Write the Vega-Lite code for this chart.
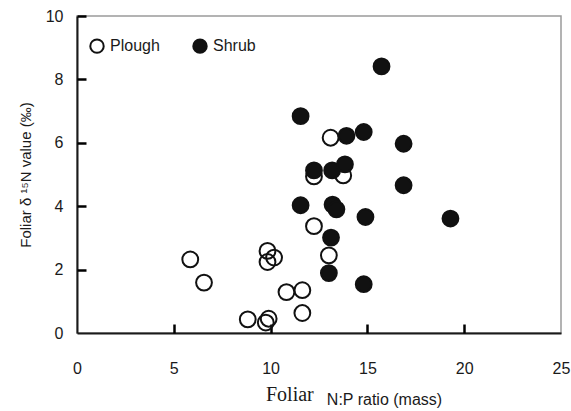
{
  "$schema": "https://vega.github.io/schema/vega-lite/v6.json",
  "width": 484,
  "height": 317,
  "autosize": {"type": "none"},
  "padding": {"left": 77, "top": 16, "right": 10, "bottom": 78},
  "config": {
    "font": "Liberation Sans",
    "view": {"stroke": "#9a9a9a", "strokeWidth": 1.5},
    "axis": {
      "domainColor": "#1a1a1a",
      "domainWidth": 2,
      "grid": false,
      "labelFont": "Liberation Sans",
      "labelFontSize": 16,
      "labelColor": "#1a1a1a",
      "titleFont": "Liberation Sans",
      "titleFontWeight": "normal",
      "titleColor": "#1a1a1a"
    }
  },
  "title": {
    "text": "Foliar",
    "orient": "bottom",
    "frame": "group",
    "anchor": "start",
    "dx": 189,
    "dy": -22,
    "offset": 0,
    "font": "Liberation Serif",
    "fontSize": 20,
    "fontWeight": "normal",
    "color": "#1a1a1a"
  },
  "resolve": {"axis": {"x": "independent", "y": "independent"}},
  "layer": [
    {
      "data": {
        "values": [
          {"type": "Plough", "np": 5.85, "d15n": 2.32},
          {"type": "Plough", "np": 6.56, "d15n": 1.59},
          {"type": "Plough", "np": 8.82, "d15n": 0.43},
          {"type": "Plough", "np": 9.75, "d15n": 0.33},
          {"type": "Plough", "np": 9.9, "d15n": 0.45},
          {"type": "Plough", "np": 9.84, "d15n": 2.59},
          {"type": "Plough", "np": 9.84, "d15n": 2.24},
          {"type": "Plough", "np": 10.18, "d15n": 2.38},
          {"type": "Plough", "np": 10.82, "d15n": 1.29},
          {"type": "Plough", "np": 11.64, "d15n": 1.35},
          {"type": "Plough", "np": 11.64, "d15n": 0.63},
          {"type": "Plough", "np": 12.24, "d15n": 3.37},
          {"type": "Plough", "np": 13.01, "d15n": 2.45},
          {"type": "Plough", "np": 13.1, "d15n": 6.16},
          {"type": "Plough", "np": 12.24, "d15n": 4.94},
          {"type": "Plough", "np": 13.75, "d15n": 4.97},
          {"type": "Shrub", "np": 15.73, "d15n": 8.41},
          {"type": "Shrub", "np": 11.55, "d15n": 6.84},
          {"type": "Shrub", "np": 13.92, "d15n": 6.22},
          {"type": "Shrub", "np": 14.81, "d15n": 6.34},
          {"type": "Shrub", "np": 16.87, "d15n": 5.97},
          {"type": "Shrub", "np": 12.24, "d15n": 5.13},
          {"type": "Shrub", "np": 13.18, "d15n": 5.13},
          {"type": "Shrub", "np": 13.84, "d15n": 5.32},
          {"type": "Shrub", "np": 16.87, "d15n": 4.66},
          {"type": "Shrub", "np": 11.55, "d15n": 4.03},
          {"type": "Shrub", "np": 13.2, "d15n": 4.05},
          {"type": "Shrub", "np": 13.4, "d15n": 3.9},
          {"type": "Shrub", "np": 14.9, "d15n": 3.66},
          {"type": "Shrub", "np": 13.12, "d15n": 3.01},
          {"type": "Shrub", "np": 13.01, "d15n": 1.89},
          {"type": "Shrub", "np": 14.81, "d15n": 1.54},
          {"type": "Shrub", "np": 19.29, "d15n": 3.61}
        ]
      },
      "mark": {"type": "point", "shape": "circle", "filled": true, "size": 250, "stroke": "#111", "strokeWidth": 2, "opacity": 1},
      "encoding": {
        "x": {
          "field": "np",
          "type": "quantitative",
          "scale": {"domain": [0, 25], "nice": false, "zero": false},
          "axis": {
            "orient": "bottom",
            "values": [0, 5, 10, 15, 20, 25],
            "ticks": false,
            "labelFlush": false,
            "labelPadding": 27,
            "title": "N:P ratio (mass)",
            "titleFontSize": 16,
            "titleX": 307,
            "titleY": 66,
            "titleBaseline": "middle",
            "titleAlign": "center"
          }
        },
        "y": {
          "field": "d15n",
          "type": "quantitative",
          "scale": {"domain": [0, 10], "nice": false},
          "axis": {
            "orient": "left",
            "values": [0, 2, 4, 6, 8, 10],
            "ticks": false,
            "labelPadding": 14,
            "title": "Foliar δ  ¹⁵N value (‰)",
            "titleFontSize": 15,
            "titleX": -52,
            "titleY": 158.5,
            "titleAngle": -90,
            "titleBaseline": "middle",
            "titleAlign": "center"
          }
        },
        "fill": {
          "field": "type",
          "type": "nominal",
          "scale": {"domain": ["Plough", "Shrub"], "range": ["transparent", "#111"]},
          "legend": {
            "title": null,
            "orient": "none",
            "legendX": 12,
            "legendY": 22,
            "direction": "horizontal",
            "symbolType": "circle",
            "symbolSize": 180,
            "symbolStrokeColor": "#111",
            "symbolStrokeWidth": 2,
            "labelFontSize": 16,
            "labelColor": "#1a1a1a",
            "labelFont": "Liberation Sans",
            "labelOffset": 5,
            "columnPadding": 29,
            "padding": 0
          }
        }
      }
    },
    {
      "mark": {"type": "text", "text": "r", "fontStyle": "italic", "fontSize": 16, "align": "left", "baseline": "alphabetic", "color": "#1a1a1a", "font": "Liberation Sans"},
      "encoding": {
        "x": {
          "datum": 20.0,
          "type": "quantitative",
          "axis": {"orient": "top", "offset": -317, "values": [5, 10, 15, 20], "labels": true, "labelColor": "transparent", "domain": false, "title": null, "ticks": true, "tickSize": 9, "tickColor": "black", "tickOpacity": 1, "tickWidth": 2.5, "grid": false}
        },
        "y": {
          "datum": 0.49,
          "type": "quantitative",
          "axis": {"orient": "right", "offset": -484, "values": [2, 4, 6, 8, 10], "labels": true, "labelColor": "transparent", "domain": false, "title": null, "ticks": true, "tickSize": 9, "tickColor": "black", "tickOpacity": 1, "tickWidth": 2.5, "grid": false}
        }
      }
    },
    {
      "mark": {"type": "text", "text": "²=0. 304", "fontSize": 16, "align": "left", "baseline": "alphabetic", "color": "#1a1a1a", "font": "Liberation Sans"},
      "encoding": {
        "x": {"datum": 20.25, "type": "quantitative", "axis": null},
        "y": {"datum": 0.49, "type": "quantitative", "axis": null}
      }
    }
  ]
}
